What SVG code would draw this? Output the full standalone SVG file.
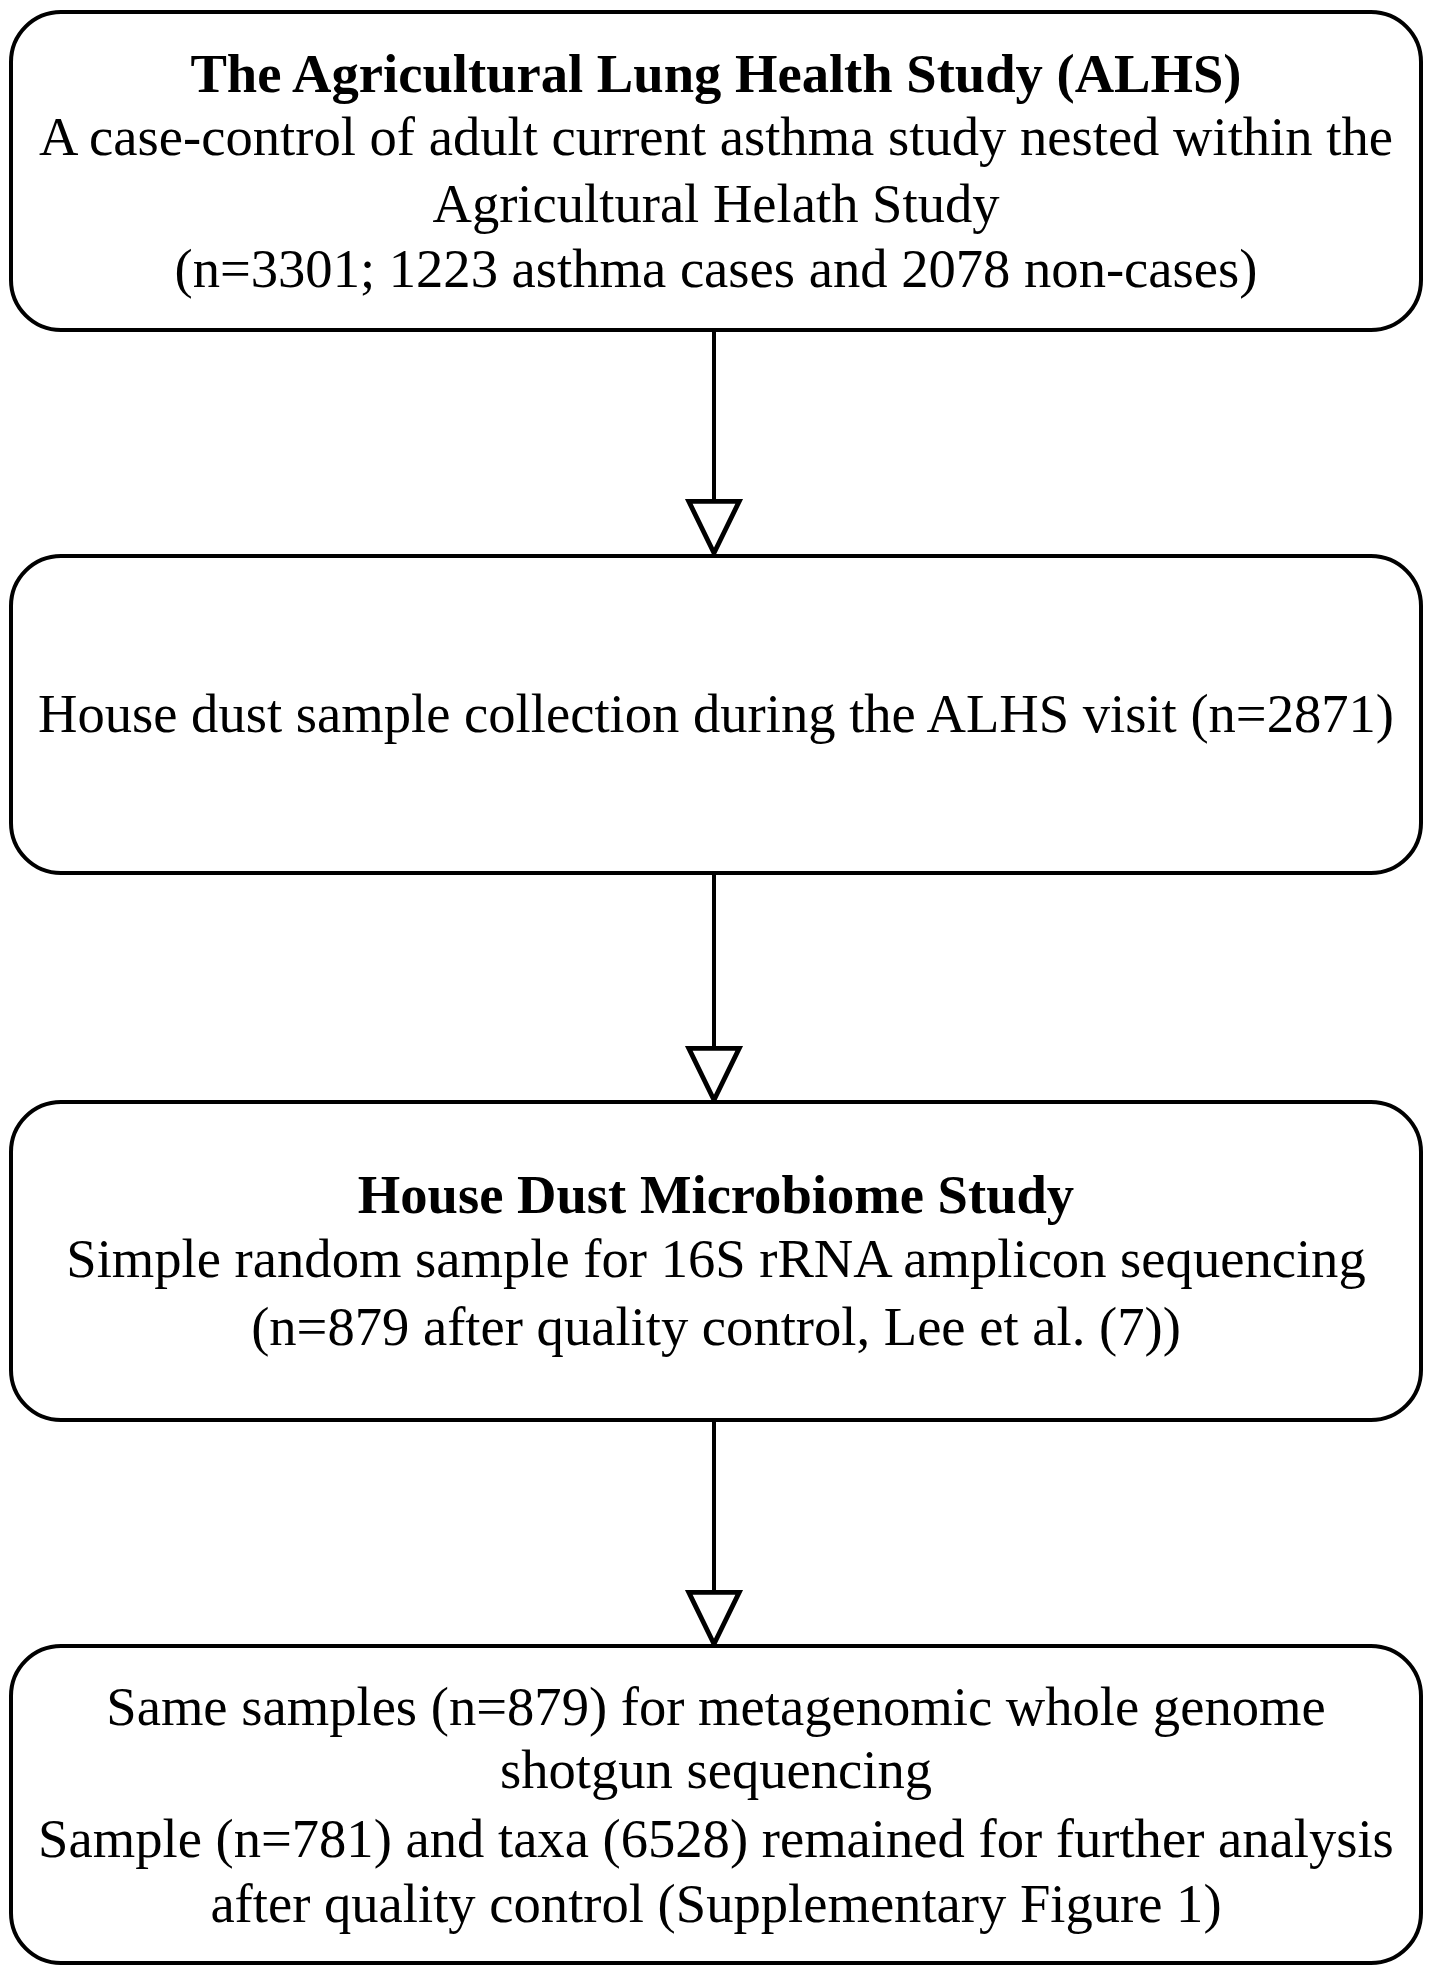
<svg xmlns="http://www.w3.org/2000/svg" width="1430" height="1975" viewBox="0 0 1430 1975">
<style>
.box{fill:#fff;stroke:#000;stroke-width:4}
.t{font-family:"Liberation Serif","Times New Roman",serif;font-size:54.6px;fill:#000;text-anchor:middle}
.b{font-weight:bold}
.c{stroke:#000;stroke-width:4;fill:none}
</style>
<defs>
<marker id="ah" markerUnits="userSpaceOnUse" markerWidth="60" markerHeight="60" refX="24" refY="46" orient="0" viewBox="0 0 48 50">
<path d="M3,3 L45,3 L24,46 Z" fill="#fff" stroke="#000" stroke-width="4" stroke-linejoin="miter"/>
</marker>
</defs>
<rect width="1430" height="1975" fill="#fff"/>
<g id="connectors">
<line class="c" x1="714" y1="330" x2="714" y2="553" marker-end="url(#ah)"/>
<line class="c" x1="714" y1="873" x2="714" y2="1100" marker-end="url(#ah)"/>
<line class="c" x1="714" y1="1420" x2="714" y2="1644" marker-end="url(#ah)"/>
</g>
<g id="node1">
<rect class="box" x="11" y="12" width="1410" height="318" rx="50" ry="50"/>
<text class="t b" x="716" y="92">The Agricultural Lung Health Study (ALHS)</text>
<text class="t" x="716" y="155">A case-control of adult current asthma study nested within the</text>
<text class="t" x="716" y="222">Agricultural Helath Study</text>
<text class="t" x="716" y="287">(n=3301; 1223 asthma cases and 2078 non-cases)</text>
</g>
<g id="node2">
<rect class="box" x="11" y="556" width="1410" height="317" rx="50" ry="50"/>
<text class="t" x="716" y="732">House dust sample collection during the ALHS visit (n=2871)</text>
</g>
<g id="node3">
<rect class="box" x="11" y="1102" width="1410" height="318" rx="50" ry="50"/>
<text class="t b" x="716" y="1213">House Dust Microbiome Study</text>
<text class="t" x="716" y="1277">Simple random sample for 16S rRNA amplicon sequencing</text>
<text class="t" x="716" y="1345">(n=879 after quality control, Lee et al. (7))</text>
</g>
<g id="node4">
<rect class="box" x="11" y="1646" width="1410" height="317" rx="50" ry="50"/>
<text class="t" x="716" y="1725">Same samples (n=879) for metagenomic whole genome</text>
<text class="t" x="716" y="1788">shotgun sequencing</text>
<text class="t" x="716" y="1857">Sample (n=781) and taxa (6528) remained for further analysis</text>
<text class="t" x="716" y="1922">after quality control (Supplementary Figure 1)</text>
</g>
</svg>
